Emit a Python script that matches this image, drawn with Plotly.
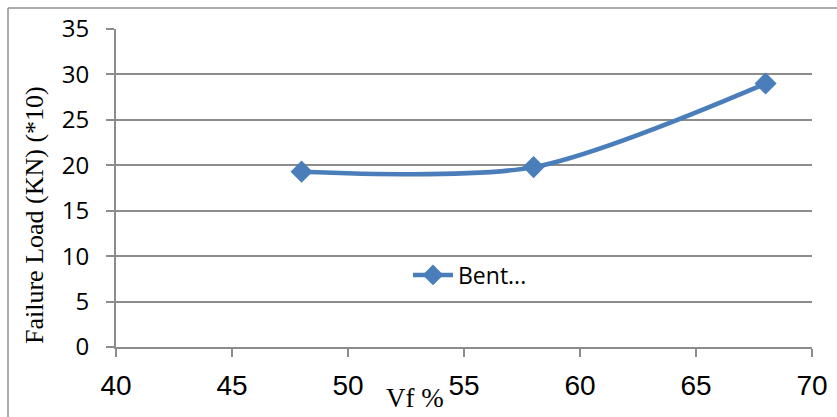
import plotly.graph_objects as go

# Failure load versus fibre volume fraction
vf_percent = [48, 58, 68]
failure_load = [19.3, 19.8, 29.0]
series_name = "Bent..."

x_ticks = [40, 45, 50, 55, 60, 65, 70]
y_ticks = [0, 5, 10, 15, 20, 25, 30, 35]

W, H = 837, 417
L, R, T, B = 116, 25, 29, 70
pw, ph = W - L - R, H - T - B

grid = "#8c8c8c"
blue = "#4a7ebb"

fig = go.Figure()
fig.add_trace(go.Scatter(
    x=vf_percent, y=failure_load, name=series_name,
    mode="lines+markers",
    line=dict(color=blue, width=4.5, shape="spline", smoothing=0.8),
    marker=dict(symbol="diamond", size=17, color=blue),
))

fig.update_layout(
    width=W, height=H,
    margin=dict(l=L, r=R, t=T, b=B, autoexpand=False),
    paper_bgcolor="white", plot_bgcolor="white",
    showlegend=True,
    legend=dict(
        x=(408 - L) / pw, y=(347 - 275) / ph, xanchor="left", yanchor="middle",
        bgcolor="rgba(255,255,255,0)",
        font=dict(family="Open Sans", size=23, color="black"),
        itemwidth=40,
    ),
    xaxis=dict(
        range=[40, 70], tickvals=x_ticks, ticktext=[str(v) for v in x_ticks],
        showgrid=False, zeroline=False, automargin=False,
        showline=True, linecolor=grid, linewidth=2,
        ticks="outside", ticklen=8, tickcolor=grid, tickwidth=2,
        tickfont=dict(family="Liberation Sans", size=28, color="black"),
        ticklabelstandoff=4,
    ),
    yaxis=dict(
        range=[0, 35], tickvals=y_ticks, ticktext=[str(v) for v in y_ticks],
        showgrid=True, gridcolor=grid, gridwidth=2,
        zeroline=False, automargin=False,
        showline=True, linecolor=grid, linewidth=2,
        ticks="outside", ticklen=8, tickcolor=grid, tickwidth=2,
        tickfont=dict(family="Open Sans", size=24, color="black"),
        ticklabelstandoff=12,
    ),
)

# Axis titles
fig.add_annotation(
    text="Vf %", xref="paper", yref="paper",
    x=(415 - L) / pw, y=(347 - 398) / ph, xanchor="center", yanchor="middle",
    showarrow=False, font=dict(family="Liberation Serif", size=27, color="black"),
)
fig.add_annotation(
    text="Failure Load (KN) (*10)", xref="paper", yref="paper",
    x=(34 - L) / pw, y=(347 - 215) / ph, xanchor="center", yanchor="middle",
    textangle=-90, showarrow=False,
    font=dict(family="Liberation Serif", size=26, color="black"),
)

# Chart-area frame along the top and left edges
bx0 = (8 - L) / pw
by_top = (347 - 8) / ph
by_bot = (347 - H - 5) / ph
bx1 = (W + 5 - L) / pw
fig.add_shape(type="line", xref="paper", yref="paper",
              x0=bx0, x1=bx1, y0=by_top, y1=by_top,
              line=dict(color="#8f8f8f", width=1.5))
fig.add_shape(type="line", xref="paper", yref="paper",
              x0=bx0, x1=bx0, y0=by_top, y1=by_bot,
              line=dict(color="#8f8f8f", width=1.5))

fig.write_html("out.html")
